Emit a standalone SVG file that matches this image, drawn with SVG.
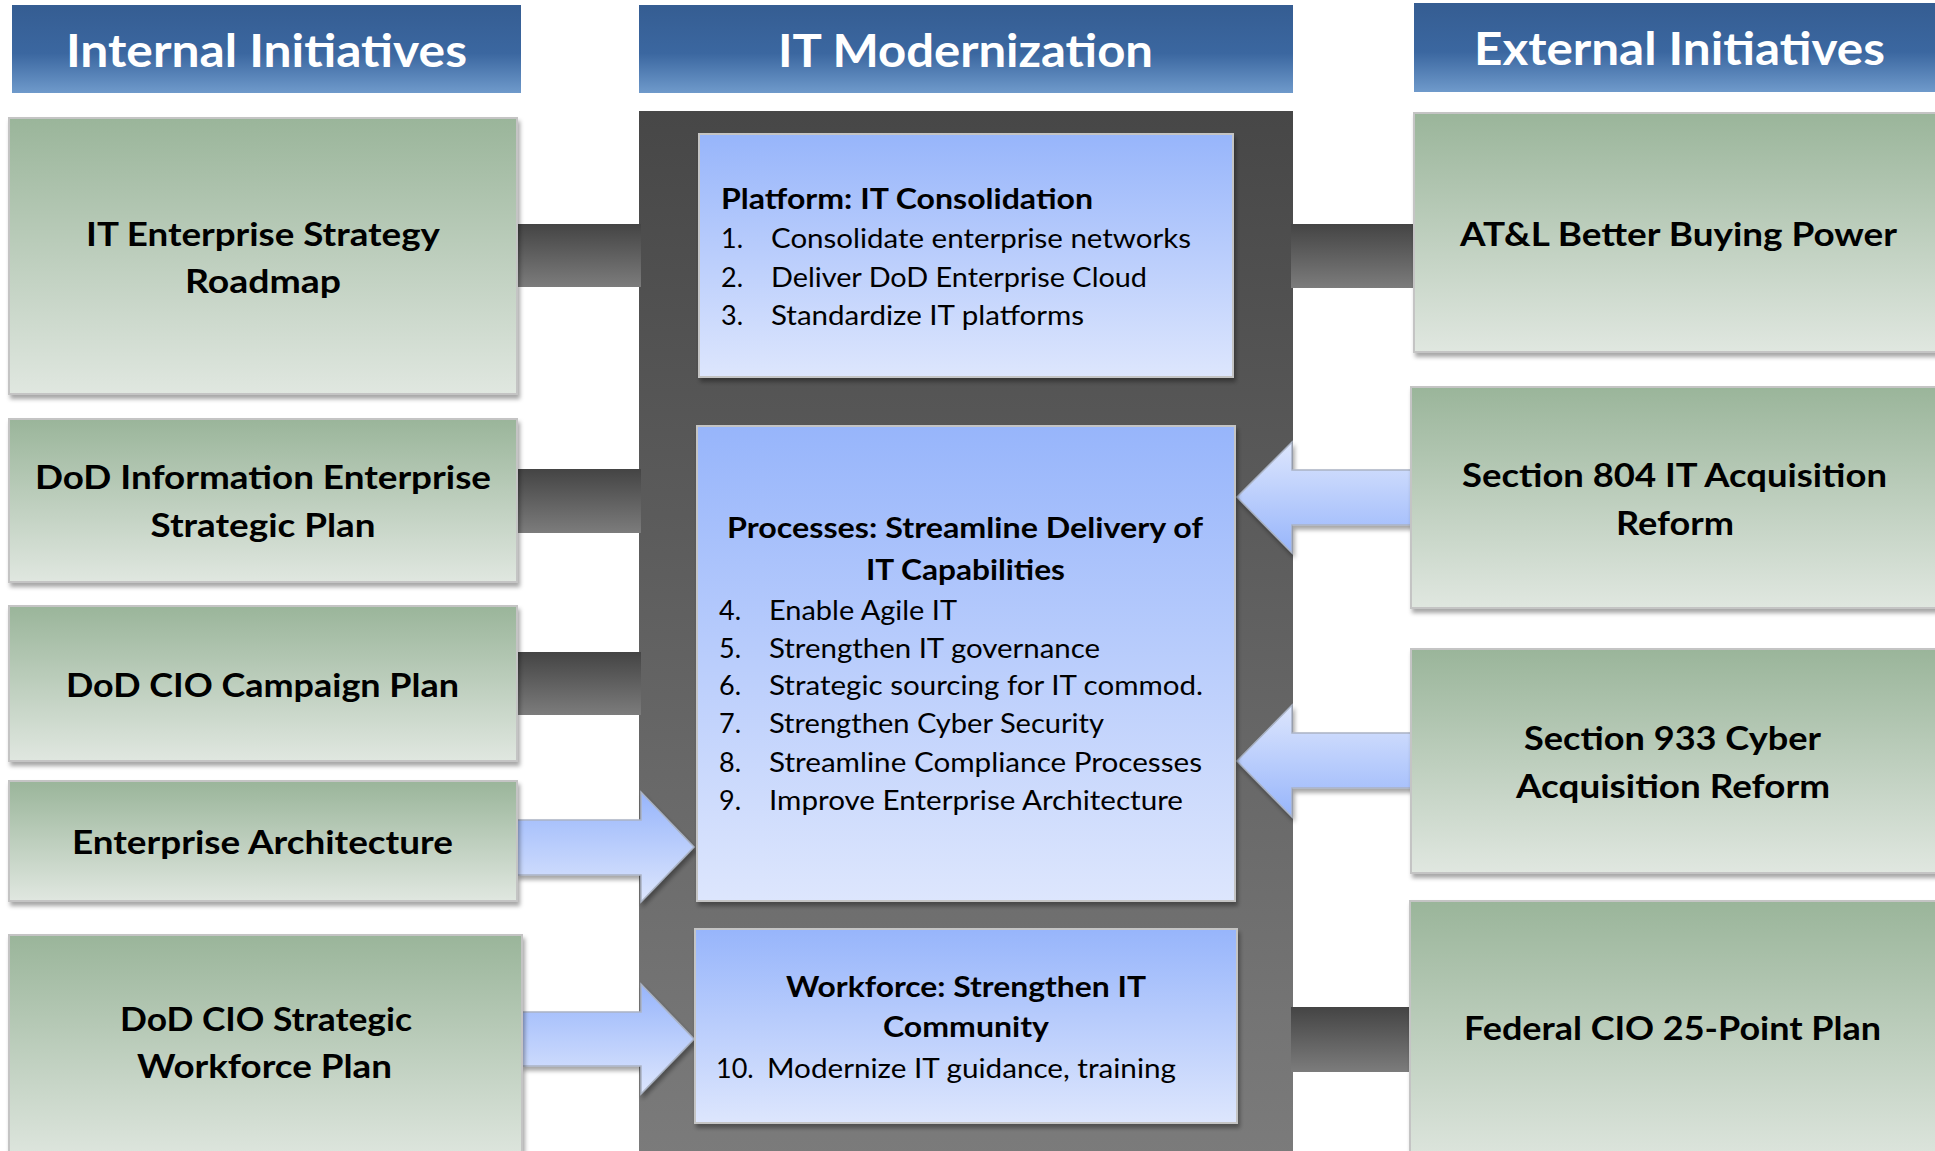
<svg xmlns="http://www.w3.org/2000/svg" width="1935" height="1151" viewBox="0 0 1935 1151">
<defs>
<linearGradient id="gHead" x1="0" y1="0" x2="0" y2="1">
<stop offset="0" stop-color="#355d92"/>
<stop offset="0.55" stop-color="#3b67a0"/>
<stop offset="1" stop-color="#6f9acb"/>
</linearGradient>
<linearGradient id="gGreen" x1="0" y1="0" x2="0" y2="1">
<stop offset="0" stop-color="#9ab59a"/>
<stop offset="1" stop-color="#e0e7e0"/>
</linearGradient>
<linearGradient id="gBlue" x1="0" y1="0" x2="0" y2="1">
<stop offset="0" stop-color="#97b5fb"/>
<stop offset="1" stop-color="#dde6fd"/>
</linearGradient>
<linearGradient id="gPanel" x1="0" y1="0" x2="0" y2="1">
<stop offset="0" stop-color="#474747"/>
<stop offset="1" stop-color="#7b7b7b"/>
</linearGradient>
<linearGradient id="gBar" x1="0" y1="0" x2="0" y2="1">
<stop offset="0" stop-color="#444444"/>
<stop offset="1" stop-color="#7c7c7c"/>
</linearGradient>
<linearGradient id="gArrR" x1="0" y1="0" x2="0" y2="1">
<stop offset="0" stop-color="#97b5fb"/>
<stop offset="1" stop-color="#dde6fd"/>
</linearGradient>
<linearGradient id="gArrL" x1="0" y1="0" x2="0" y2="1">
<stop offset="0" stop-color="#dde6fd"/>
<stop offset="1" stop-color="#97b5fb"/>
</linearGradient>
<filter id="shadow" x="-5%" y="-5%" width="115%" height="120%">
<feDropShadow dx="2" dy="4" stdDeviation="2" flood-color="#000" flood-opacity="0.35"/>
</filter>
</defs>
<style>
.hdr{fill:url(#gHead)}
.hdrt{font-family:Lato,"Liberation Sans",sans-serif;font-weight:700;font-size:46px;fill:#ffffff;text-anchor:middle}
.gbox{fill:url(#gGreen);stroke:#c4c4c4;stroke-width:2;filter:url(#shadow)}
.bbox{fill:url(#gBlue);stroke:#c4c4c4;stroke-width:2;filter:url(#shadow)}
.lbl{font-family:Lato,"Liberation Sans",sans-serif;font-weight:700;font-size:32px;fill:#000;text-anchor:middle}
.ttl{font-family:Lato,"Liberation Sans",sans-serif;font-weight:700;font-size:28px;fill:#000}
.ttlc{font-family:Lato,"Liberation Sans",sans-serif;font-weight:700;font-size:28px;fill:#000;text-anchor:middle}
.itm{font-family:Lato,"Liberation Sans",sans-serif;font-weight:400;font-size:27px;fill:#000}
.bar{fill:url(#gBar)}
.arrR{fill:url(#gArrR);stroke:#aab3c4;stroke-width:1.5;filter:url(#shadow)}
.arrL{fill:url(#gArrL);stroke:#aab3c4;stroke-width:1.5;filter:url(#shadow)}
</style>
<rect width="1935" height="1151" fill="#ffffff"/>

<g id="header-internal">
<rect class="hdr" x="12" y="5" width="509" height="88"/>
<text class="hdrt" x="266.5" y="67" textLength="401" lengthAdjust="spacingAndGlyphs">Internal Initiatives</text>
</g>
<g id="header-it-modernization">
<rect class="hdr" x="639" y="5" width="654" height="88"/>
<text class="hdrt" x="965.5" y="67" textLength="375" lengthAdjust="spacingAndGlyphs">IT Modernization</text>
</g>
<g id="header-external">
<rect class="hdr" x="1414" y="3" width="525" height="89"/>
<text class="hdrt" x="1679.5" y="65" textLength="411" lengthAdjust="spacingAndGlyphs">External Initiatives</text>
</g>

<g id="it-modernization-panel">
<rect x="639" y="111" width="654" height="1045" fill="url(#gPanel)"/>
</g>

<g id="connectors">
<rect class="bar" x="515" y="224" width="126" height="63"/>
<rect class="bar" x="515" y="469" width="126" height="64"/>
<rect class="bar" x="515" y="652" width="126" height="63"/>
<rect class="bar" x="1291" y="224" width="125" height="64"/>
<rect class="bar" x="1291" y="1007" width="121" height="65"/>
<path class="arrR" d="M517 820 H641 V792 L694 847 L641 902 V875 H517 Z"/>
<path class="arrR" d="M522 1012 H641 V984 L694 1039 L641 1094 V1066 H522 Z"/>
<path class="arrL" d="M1411 470 H1292 V442 L1237 497 L1292 553 V525 H1411 Z"/>
<path class="arrL" d="M1411 733 H1292 V705 L1237 761 L1292 817 V788 H1411 Z"/>
</g>

<g id="it-enterprise-strategy-roadmap">
<rect class="gbox" x="9" y="118" width="508" height="276"/>
<text class="lbl" x="263" y="246" textLength="354" lengthAdjust="spacingAndGlyphs">IT Enterprise Strategy</text>
<text class="lbl" x="263" y="293" textLength="156" lengthAdjust="spacingAndGlyphs">Roadmap</text>
</g>
<g id="dod-information-enterprise-strategic-plan">
<rect class="gbox" x="9" y="419" width="508" height="163"/>
<text class="lbl" x="263" y="489" textLength="456" lengthAdjust="spacingAndGlyphs">DoD Information Enterprise</text>
<text class="lbl" x="263" y="537" textLength="225" lengthAdjust="spacingAndGlyphs">Strategic Plan</text>
</g>
<g id="dod-cio-campaign-plan">
<rect class="gbox" x="9" y="606" width="508" height="155"/>
<text class="lbl" x="262.5" y="697" textLength="393" lengthAdjust="spacingAndGlyphs">DoD CIO Campaign Plan</text>
</g>
<g id="enterprise-architecture">
<rect class="gbox" x="9" y="781" width="508" height="120"/>
<text class="lbl" x="262.5" y="854" textLength="381" lengthAdjust="spacingAndGlyphs">Enterprise Architecture</text>
</g>
<g id="dod-cio-strategic-workforce-plan">
<rect class="gbox" x="9" y="935" width="513" height="230"/>
<text class="lbl" x="266" y="1031" textLength="292" lengthAdjust="spacingAndGlyphs">DoD CIO Strategic</text>
<text class="lbl" x="264.5" y="1078" textLength="255" lengthAdjust="spacingAndGlyphs">Workforce Plan</text>
</g>

<g id="atl-better-buying-power">
<rect class="gbox" x="1414" y="113" width="540" height="239"/>
<text class="lbl" x="1678.5" y="246" textLength="437" lengthAdjust="spacingAndGlyphs">AT&amp;L Better Buying Power</text>
</g>
<g id="section-804-it-acquisition-reform">
<rect class="gbox" x="1411" y="387" width="540" height="221"/>
<text class="lbl" x="1674.5" y="487" textLength="425" lengthAdjust="spacingAndGlyphs">Section 804 IT Acquisition</text>
<text class="lbl" x="1675" y="535" textLength="118" lengthAdjust="spacingAndGlyphs">Reform</text>
</g>
<g id="section-933-cyber-acquisition-reform">
<rect class="gbox" x="1411" y="649" width="540" height="224"/>
<text class="lbl" x="1672.5" y="750" textLength="297" lengthAdjust="spacingAndGlyphs">Section 933 Cyber</text>
<text class="lbl" x="1673" y="798" textLength="314" lengthAdjust="spacingAndGlyphs">Acquisition Reform</text>
</g>
<g id="federal-cio-25-point-plan">
<rect class="gbox" x="1410" y="901" width="540" height="270"/>
<text class="lbl" x="1672.5" y="1040" textLength="417" lengthAdjust="spacingAndGlyphs">Federal CIO 25-Point Plan</text>
</g>

<g id="platform-it-consolidation">
<rect class="bbox" x="699" y="134" width="534" height="243"/>
<text class="ttl" x="721" y="209" textLength="372" lengthAdjust="spacingAndGlyphs">Platform: IT Consolidation</text>
<text class="itm" y="248"><tspan x="721">1.</tspan><tspan x="771" textLength="420" lengthAdjust="spacingAndGlyphs">Consolidate enterprise networks</tspan></text>
<text class="itm" y="287"><tspan x="721">2.</tspan><tspan x="771" textLength="376" lengthAdjust="spacingAndGlyphs">Deliver DoD Enterprise Cloud</tspan></text>
<text class="itm" y="325"><tspan x="721">3.</tspan><tspan x="771" textLength="313" lengthAdjust="spacingAndGlyphs">Standardize IT platforms</tspan></text>
</g>
<g id="processes-streamline-delivery">
<rect class="bbox" x="697" y="426" width="538" height="475"/>
<text class="ttlc" x="965" y="538" textLength="476" lengthAdjust="spacingAndGlyphs">Processes: Streamline Delivery of</text>
<text class="ttlc" x="965.5" y="580" textLength="199" lengthAdjust="spacingAndGlyphs">IT Capabilities</text>
<text class="itm" y="620"><tspan x="719">4.</tspan><tspan x="769" textLength="188" lengthAdjust="spacingAndGlyphs">Enable Agile IT</tspan></text>
<text class="itm" y="658"><tspan x="719">5.</tspan><tspan x="769" textLength="331" lengthAdjust="spacingAndGlyphs">Strengthen IT governance</tspan></text>
<text class="itm" y="695"><tspan x="719">6.</tspan><tspan x="769" textLength="434" lengthAdjust="spacingAndGlyphs">Strategic sourcing for IT commod.</tspan></text>
<text class="itm" y="733"><tspan x="719">7.</tspan><tspan x="769" textLength="335" lengthAdjust="spacingAndGlyphs">Strengthen Cyber Security</tspan></text>
<text class="itm" y="772"><tspan x="719">8.</tspan><tspan x="769" textLength="433" lengthAdjust="spacingAndGlyphs">Streamline Compliance Processes</tspan></text>
<text class="itm" y="810"><tspan x="719">9.</tspan><tspan x="769" textLength="414" lengthAdjust="spacingAndGlyphs">Improve Enterprise Architecture</tspan></text>
</g>
<g id="workforce-strengthen-it-community">
<rect class="bbox" x="695" y="929" width="542" height="194"/>
<text class="ttlc" x="966" y="997" textLength="360" lengthAdjust="spacingAndGlyphs">Workforce: Strengthen IT</text>
<text class="ttlc" x="966" y="1037" textLength="166" lengthAdjust="spacingAndGlyphs">Community</text>
<text class="itm" y="1078"><tspan x="716">10.</tspan><tspan x="767" textLength="409" lengthAdjust="spacingAndGlyphs">Modernize IT guidance, training</tspan></text>
</g>
</svg>
